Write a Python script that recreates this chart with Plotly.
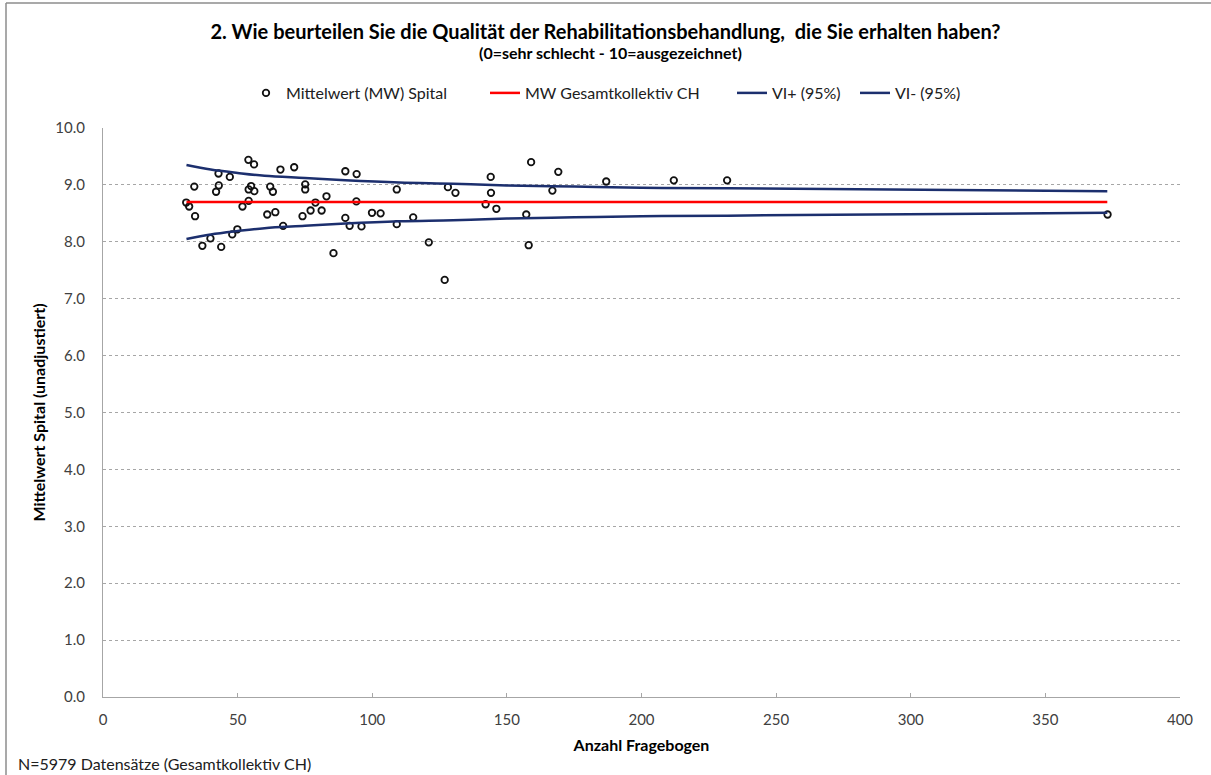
import plotly.graph_objects as go

# Hospital results: number of questionnaires and unadjusted mean score
anzahl = [30.9, 32.0, 33.9, 34.2, 36.9, 39.9, 42.0, 42.9, 43.0, 43.9,
          47.1, 48.0, 49.9, 51.8, 54.0, 54.1, 54.1, 55.0, 56.1, 56.2,
          61.0, 62.1, 63.1, 64.0, 65.9, 66.9, 71.0, 74.1, 75.1, 75.1,
          77.1, 78.9, 81.2, 83.0, 85.6, 90.0, 90.0, 91.6, 94.2, 94.1,
          96.0, 99.9, 103.1, 109.1, 109.1, 115.2, 121.0, 126.9, 128.1, 130.9,
          142.1, 144.0, 144.1, 146.1, 157.2, 158.1, 159.0, 166.9, 169.1, 186.9,
          212.0, 231.8, 373.1]
mittelwert = [8.69, 8.62, 8.97, 8.45, 7.93, 8.06, 8.88, 9.20, 8.99, 7.91,
              9.14, 8.13, 8.22, 8.62, 9.44, 8.72, 8.92, 8.98, 9.36, 8.89,
              8.48, 8.97, 8.88, 8.52, 9.27, 8.28, 9.31, 8.45, 9.01, 8.92,
              8.55, 8.69, 8.55, 8.80, 7.80, 9.24, 8.42, 8.28, 9.19, 8.71,
              8.27, 8.51, 8.50, 8.92, 8.31, 8.43, 7.99, 7.33, 8.96, 8.86,
              8.66, 9.14, 8.86, 8.58, 8.48, 7.94, 9.40, 8.90, 9.23, 9.06,
              9.08, 9.08, 8.48]

# Overall Swiss mean and 95% confidence band
mw_gesamt = 8.70
vi_n = [31, 40, 50, 60, 75, 90, 110, 130, 150, 175, 200, 232, 373]
vi_plus = [9.35, 9.27, 9.21, 9.16, 9.12, 9.08, 9.04, 9.02, 8.99, 8.97, 8.95, 8.94, 8.89]
vi_minus = [8.05, 8.13, 8.19, 8.24, 8.28, 8.32, 8.36, 8.38, 8.41, 8.43, 8.45, 8.46, 8.51]

x_ticks = [0, 50, 100, 150, 200, 250, 300, 350, 400]
y_ticks = [0, 1, 2, 3, 4, 5, 6, 7, 8, 9, 10]

FONT = "Lato, 'Open Sans', sans-serif"
NAVY = "#1c2f6e"

# plot area in pixels: left 103, right 1180, top 128, bottom 697
PW, PH = 1077, 569


def px_x(px):
    return (px - 103) / PW


def px_y(py):
    return (697 - py) / PH


fig = go.Figure()
fig.add_trace(go.Scatter(
    x=anzahl, y=mittelwert, mode="markers", name="Mittelwert (MW) Spital",
    marker=dict(symbol="circle-open", size=6.5, color="#111111", line=dict(width=1.8)),
    legend="legend",
))
fig.add_trace(go.Scatter(
    x=[vi_n[0], vi_n[-1]], y=[mw_gesamt, mw_gesamt], mode="lines",
    name="MW Gesamtkollektiv CH", line=dict(color="#ff0000", width=2.5),
    legend="legend2",
))
fig.add_trace(go.Scatter(
    x=vi_n, y=vi_plus, mode="lines", name="VI+ (95%)",
    line=dict(color=NAVY, width=2.5, shape="spline"),
    legend="legend3",
))
fig.add_trace(go.Scatter(
    x=vi_n, y=vi_minus, mode="lines", name="VI- (95%)",
    line=dict(color=NAVY, width=2.5, shape="spline"),
    legend="legend4",
))


def legend_at(px_left):
    return dict(
        orientation="h", x=px_x(px_left), xanchor="left", y=px_y(93), yanchor="middle",
        font=dict(family=FONT, size=16, color="#202020"), bgcolor="rgba(0,0,0,0)",
    )


fig.update_layout(
    width=1211, height=775,
    margin=dict(l=103, r=31, t=128, b=78),
    paper_bgcolor="white", plot_bgcolor="white",
    font=dict(family=FONT, size=15, color="#404040"),
    showlegend=True,
    legend=legend_at(246),
    legend2=legend_at(485),
    legend3=legend_at(732),
    legend4=legend_at(855),
    title=dict(
        text="<b>2. Wie beurteilen Sie die Qualität der Rehabilitationsbehandlung,  die Sie erhalten haben?</b>",
        x=0.5, xanchor="center", y=1 - 32 / 775, yanchor="middle",
        font=dict(family=FONT, size=20, color="#000000"),
    ),
    xaxis=dict(
        range=[0, 400], tickvals=x_ticks, ticktext=[str(v) for v in x_ticks],
        showgrid=False, zeroline=False, showline=True, linecolor="#a6a6a6", linewidth=1,
        ticks="inside", ticklen=4, tickcolor="#a6a6a6", ticklabelstandoff=9,
        title=dict(text="<b>Anzahl Fragebogen</b>", font=dict(size=16, color="#000000"), standoff=12),
        tickfont=dict(size=15, color="#404040"),
    ),
    yaxis=dict(
        range=[0, 10], tickvals=y_ticks, ticktext=[f"{v:.1f}" for v in y_ticks],
        showgrid=True, gridcolor="#a6a6a6", griddash="3px,3px", gridwidth=1,
        zeroline=False, showline=True, linecolor="#a6a6a6", linewidth=1,
        ticks="", ticklabelstandoff=14,
        title=dict(text="<b>Mittelwert Spital (unadjustiert)</b>", font=dict(size=16, color="#000000"), standoff=5),
        tickfont=dict(size=15, color="#404040"),
    ),
)

fig.add_annotation(
    text="<b>(0=sehr schlecht - 10=ausgezeichnet)</b>", xref="paper", yref="paper",
    x=px_x(610), y=px_y(52), xanchor="center", yanchor="middle", showarrow=False,
    font=dict(family=FONT, size=16, color="#000000"),
)

# Outer chart frame (top and left edges)
fig.add_shape(type="line", xref="paper", yref="paper",
              x0=px_x(6), x1=px_x(1211), y0=px_y(3), y1=px_y(3),
              line=dict(color="#8c8c8c", width=1.5))
fig.add_shape(type="line", xref="paper", yref="paper",
              x0=px_x(6), x1=px_x(6), y0=px_y(3), y1=px_y(775),
              line=dict(color="#8c8c8c", width=1.5))

fig.add_annotation(
    text="N=5979 Datensätze (Gesamtkollektiv CH)", xref="paper", yref="paper",
    x=px_x(16), y=px_y(763), xanchor="left", yanchor="middle",
    showarrow=False, font=dict(family=FONT, size=16, color="#202020"),
)

fig.write_html("out.html")
